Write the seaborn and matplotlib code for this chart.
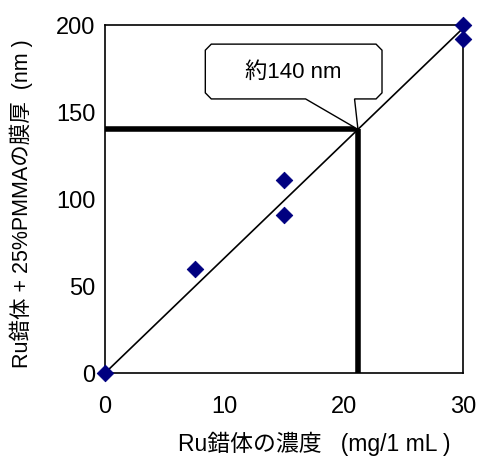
import numpy as np
import pandas as pd
import seaborn as sns
import matplotlib.pyplot as plt
from matplotlib.patches import Polygon

# datos
conc = [0, 7.5, 15, 15, 30, 30]          # mg/1 mL
espesor = [0, 60, 111, 91, 200, 192]     # nm
x_ticks = [0, 10, 20, 30]
y_ticks = [0, 50, 100, 150, 200]
objetivo = 140                            # nm

sns.set_style("white")
plt.rcParams['font.family'] = ['Liberation Sans', 'Noto Sans CJK JP', 'DejaVu Sans']

df = pd.DataFrame({'conc': conc, 'espesor': espesor})

# recta por el origen (mínimos cuadrados)
pend = np.sum(df.conc * df.espesor) / np.sum(df.conc ** 2)
x_obj = objetivo / pend
recta = pd.DataFrame({'x': [0, 30], 'y': [0, 30 * pend]})

fig = plt.figure(figsize=(4.84, 4.64), dpi=100)
ax = fig.add_axes([0.217, 0.194, 0.74, 0.75])

sns.lineplot(data=recta, x='x', y='y', color='black', lw=1.2, ax=ax)
ax.plot([0, x_obj], [objetivo, objetivo], color='black', lw=4, solid_capstyle='butt', clip_on=False)
ax.plot([x_obj, x_obj], [0, objetivo], color='black', lw=4, solid_capstyle='butt', clip_on=False)
sns.scatterplot(data=df, x='conc', y='espesor', marker='D', s=70, color='#000080',
                edgecolor='#000080', ax=ax, clip_on=False, zorder=5)

# globo "約140 nm"
x0, x1, y0, y1 = 8.4, 23.2, 157.5, 189
cx, cy = 0.5, 3.5
pl, pr = 16.8, 20.9
globo = [(x0 + cx, y1), (x1 - cx, y1), (x1, y1 - cy), (x1, y0 + cy), (x1 - cx, y0),
         (pr, y0), (x_obj, objetivo), (pl, y0), (x0 + cx, y0), (x0, y0 + cy), (x0, y1 - cy)]
ax.add_patch(Polygon(globo, closed=True, fc='white', ec='black', lw=1, zorder=4))
ax.text((x0 + x1) / 2, (y0 + y1) / 2, '約140 nm', ha='center', va='center',
        fontsize=16, color='black', zorder=6)

ax.set_xlim(0, 30)
ax.set_ylim(0, 200)
ax.set_xticks(x_ticks)
ax.set_yticks(y_ticks)
ax.tick_params(direction='in', length=4, width=1, labelsize=17, colors='black')
ax.tick_params(axis='x', pad=16)
ax.tick_params(axis='y', pad=7)
for s in ax.spines.values():
    s.set_color('black')
    s.set_linewidth(1.2)

ax.set_xlabel('Ru錯体の濃度   (mg/1 mL )', fontsize=16.5, color='black')
ax.set_ylabel('Ru錯体 + 25%PMMAの膜厚  (nm )', fontsize=15.5, color='black')
ax.xaxis.set_label_coords(0.585, -0.165)
ax.yaxis.set_label_coords(-0.20, 0.49)

fig.savefig('out.png', dpi=100)
